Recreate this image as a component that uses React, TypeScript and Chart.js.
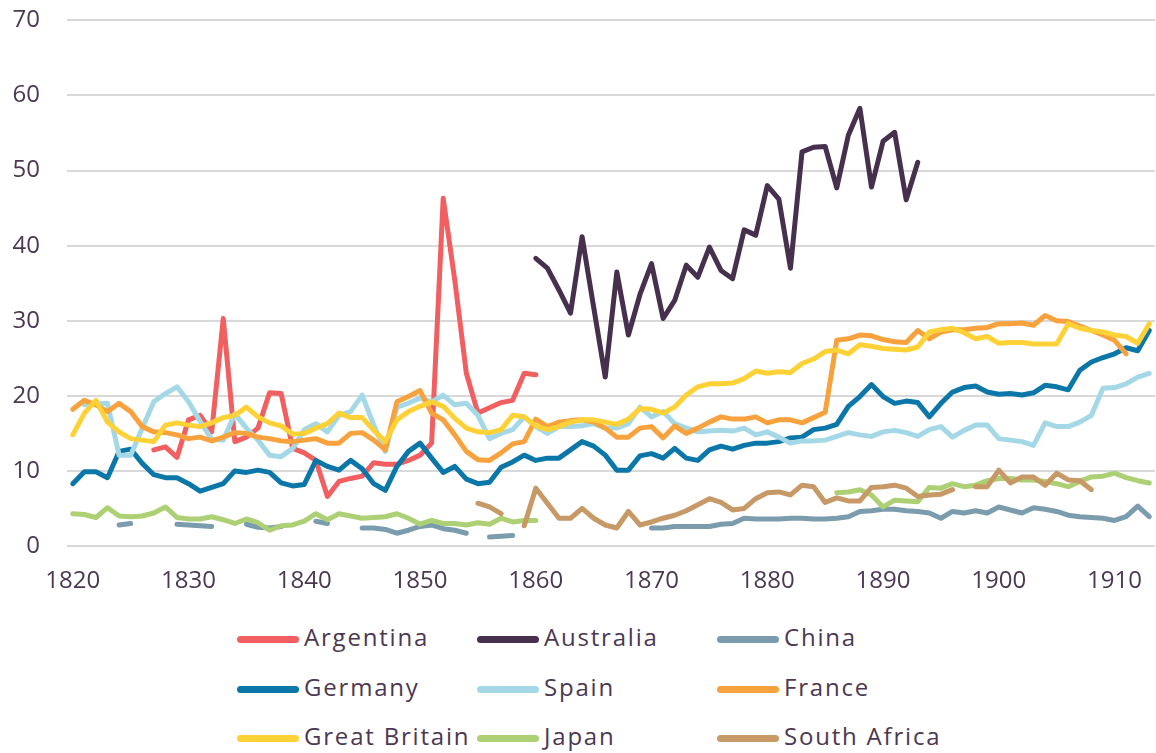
import React, { useEffect, useRef } from 'react';
import { Chart, registerables } from 'chart.js';

Chart.register(...registerables);

const FIRST_YEAR = 1820;
const LAST_YEAR = 1913;
const years: number[] = Array.from({ length: LAST_YEAR - FIRST_YEAR + 1 }, (_, i) => FIRST_YEAR + i);
const xTickYears = [1820, 1830, 1840, 1850, 1860, 1870, 1880, 1890, 1900, 1910];
const yTicks = [0, 10, 20, 30, 40, 50, 60, 70];

const n = null;

// one line per decade, 1820 ... 1913
const argentina = [
  n, n, n, n, n, n, n, 12.8, 13.2, 11.8,
  16.8, 17.4, 15.2, 30.3, 13.9, 14.5, 15.7, 20.4, 20.3, 13.0,
  12.4, 11.4, 6.6, 8.6, 9.0, 9.3, 11.1, 10.9, 10.9, 11.4,
  12.1, 13.7, 46.3, 35.4, 23.0, 17.7, 18.4, 19.1, 19.4, 23.0,
  22.8, n, n, n, n, n, n, n, n, n,
  n, n, n, n, n, n, n, n, n, n,
  n, n, n, n, n, n, n, n, n, n,
  n, n, n, n, n, n, n, n, n, n,
  n, n, n, n, n, n, n, n, n, n,
  n, n, n, n,
];

const australia = [
  n, n, n, n, n, n, n, n, n, n,
  n, n, n, n, n, n, n, n, n, n,
  n, n, n, n, n, n, n, n, n, n,
  n, n, n, n, n, n, n, n, n, n,
  38.3, 37.0, 34.1, 31.0, 41.2, 31.8, 22.5, 36.5, 28.1, 33.5,
  37.6, 30.3, 32.7, 37.4, 35.8, 39.8, 36.7, 35.6, 42.1, 41.4,
  48.0, 46.2, 37.0, 52.5, 53.1, 53.2, 47.7, 54.7, 58.3, 47.8,
  53.9, 55.1, 46.1, 51.1, n, n, n, n, n, n,
  n, n, n, n, n, n, n, n, n, n,
  n, n, n, n,
];

const china = [
  n, n, n, n, 2.8, 3.0, n, n, n, 2.9,
  2.8, 2.7, 2.6, n, n, 2.9, 2.5, 2.4, 2.6, n,
  n, 3.3, 3.0, n, n, 2.4, 2.4, 2.2, 1.7, 2.1,
  2.6, 2.8, 2.3, 2.1, 1.7, n, 1.2, 1.3, 1.4, n,
  n, n, n, n, n, n, n, n, n, n,
  2.4, 2.4, 2.6, 2.6, 2.6, 2.6, 2.9, 3.0, 3.7, 3.6,
  3.6, 3.6, 3.7, 3.7, 3.6, 3.6, 3.7, 3.9, 4.6, 4.7,
  4.9, 4.9, 4.7, 4.6, 4.4, 3.7, 4.6, 4.4, 4.7, 4.4,
  5.2, 4.8, 4.4, 5.1, 4.9, 4.6, 4.1, 3.9, 3.8, 3.7,
  3.4, 3.9, 5.3, 3.9,
];

const germany = [
  8.3, 9.9, 9.9, 9.1, 12.6, 12.9, 11.0, 9.5, 9.1, 9.1,
  8.3, 7.3, 7.8, 8.3, 10.0, 9.8, 10.1, 9.8, 8.4, 8.0,
  8.2, 11.4, 10.6, 10.1, 11.4, 10.3, 8.3, 7.4, 10.6, 12.6,
  13.7, 11.7, 9.8, 10.6, 8.9, 8.3, 8.5, 10.5, 11.2, 12.1,
  11.4, 11.7, 11.7, 12.8, 13.9, 13.3, 12.1, 10.1, 10.1, 12.0,
  12.3, 11.7, 13.0, 11.7, 11.4, 12.8, 13.3, 12.9, 13.4, 13.7,
  13.7, 13.9, 14.4, 14.5, 15.5, 15.7, 16.2, 18.6, 19.9, 21.5,
  19.9, 19.0, 19.3, 19.1, 17.2, 19.0, 20.5, 21.1, 21.3, 20.5,
  20.2, 20.3, 20.1, 20.4, 21.4, 21.2, 20.8, 23.4, 24.5, 25.1,
  25.6, 26.4, 26.0, 28.7,
];

const spain = [
  n, 18.8, 18.9, 19.0, 12.1, 12.1, 15.7, 19.2, 20.3, 21.2,
  19.2, 16.6, 14.2, 14.1, 17.6, 15.7, 14.1, 12.1, 11.9, 13.0,
  15.5, 16.3, 15.2, 17.4, 17.9, 20.1, 16.1, 12.6, 18.5, 19.0,
  19.7, 19.2, 20.1, 18.8, 19.0, 17.4, 14.3, 15.0, 15.5, 17.2,
  15.9, 15.0, 15.9, 15.9, 16.0, 16.3, 15.7, 15.7, 16.3, 18.5,
  17.2, 17.9, 16.3, 15.7, 15.2, 15.3, 15.4, 15.3, 15.7, 14.8,
  15.2, 14.5, 13.7, 14.0, 14.0, 14.1, 14.6, 15.1, 14.8, 14.6,
  15.2, 15.4, 15.1, 14.6, 15.5, 15.9, 14.5, 15.4, 16.1, 16.1,
  14.3, 14.1, 13.9, 13.4, 16.4, 15.9, 15.9, 16.5, 17.4, 21.0,
  21.1, 21.6, 22.5, 23.0,
];

const france = [
  18.2, 19.4, 18.8, 17.9, 19.0, 17.9, 15.9, 15.2, 15.1, 14.8,
  14.3, 14.5, 14.0, 14.5, 15.1, 15.0, 14.5, 14.3, 14.0, 13.9,
  14.1, 14.3, 13.7, 13.7, 15.0, 15.1, 14.1, 12.8, 19.2, 19.9,
  20.7, 17.7, 16.8, 14.8, 12.6, 11.5, 11.4, 12.4, 13.6, 13.9,
  16.9, 15.9, 16.5, 16.7, 16.8, 16.5, 15.7, 14.5, 14.5, 15.7,
  15.9, 14.4, 16.0, 15.0, 15.7, 16.5, 17.2, 16.9, 16.9, 17.2,
  16.4, 16.8, 16.8, 16.4, 17.1, 17.8, 27.4, 27.6, 28.1, 28.0,
  27.5, 27.2, 27.1, 28.7, 27.6, 28.5, 28.8, 28.8, 29.0, 29.1,
  29.6, 29.6, 29.7, 29.4, 30.7, 30.0, 29.9, 29.3, 28.7, 28.1,
  27.4, 25.6, n, n,
];

const greatBritain = [
  14.8, 17.7, 19.4, 16.5, 15.2, 14.3, 14.1, 13.9, 16.1, 16.4,
  16.1, 15.9, 16.4, 17.1, 17.4, 18.5, 17.2, 16.4, 16.0, 14.9,
  15.0, 15.7, 16.3, 17.7, 17.1, 17.1, 15.4, 13.9, 16.8, 17.9,
  18.6, 19.2, 18.6, 17.0, 15.7, 15.2, 15.1, 15.5, 17.4, 17.2,
  16.0, 15.5, 15.9, 16.5, 16.8, 16.8, 16.5, 16.2, 16.9, 18.3,
  18.2, 17.7, 18.5, 20.1, 21.2, 21.6, 21.6, 21.7, 22.3, 23.3,
  23.0, 23.2, 23.1, 24.3, 24.9, 25.9, 26.1, 25.6, 26.8, 26.6,
  26.3, 26.2, 26.1, 26.5, 28.5, 28.8, 29.0, 28.4, 27.6, 27.9,
  27.0, 27.1, 27.1, 26.9, 26.9, 26.9, 29.6, 29.0, 28.7, 28.5,
  28.1, 27.9, 27.0, 29.6,
];

const japan = [
  4.3, 4.2, 3.8, 5.1, 4.0, 3.9, 4.0, 4.4, 5.2, 3.8,
  3.6, 3.6, 3.9, 3.5, 3.0, 3.6, 3.1, 2.1, 2.7, 2.8,
  3.3, 4.3, 3.5, 4.3, 4.0, 3.7, 3.8, 3.9, 4.3, 3.7,
  2.9, 3.4, 3.0, 3.0, 2.8, 3.1, 2.9, 3.7, 3.2, 3.4,
  3.4, n, n, n, n, n, n, n, n, n,
  n, n, n, n, n, n, n, n, n, n,
  n, n, n, n, n, n, 7.1, 7.2, 7.5, 6.8,
  5.2, 6.1, 6.0, 5.9, 7.8, 7.7, 8.3, 7.9, 8.1, 8.7,
  9.0, 9.0, 8.8, 8.8, 8.6, 8.3, 7.9, 8.6, 9.2, 9.3,
  9.7, 9.1, 8.7, 8.4,
];

const southAfrica = [
  n, n, n, n, n, n, n, n, n, n,
  n, n, n, n, n, n, n, n, n, n,
  n, n, n, n, n, n, n, n, n, n,
  n, n, n, n, n, 5.7, 5.2, 4.3, n, 2.7,
  7.7, 5.7, 3.7, 3.7, 5.0, 3.7, 2.8, 2.4, 4.6, 2.8,
  3.2, 3.7, 4.1, 4.7, 5.5, 6.3, 5.8, 4.8, 5.0, 6.3,
  7.1, 7.2, 6.8, 8.1, 7.9, 5.8, 6.4, 6.0, 6.0, 7.8,
  7.9, 8.1, 7.7, 6.6, 6.8, 6.9, 7.5, n, 7.9, 7.9,
  10.1, 8.4, 9.2, 9.2, 8.1, 9.7, 8.8, 8.7, 7.5, n,
  n, n, n, n,
];

const seriesNames = [
  'Argentina', 'Australia', 'China',
  'Germany', 'Spain', 'France',
  'Great Britain', 'Japan', 'South Africa',
];
const seriesValues = [argentina, australia, china, germany, spain, france, greatBritain, japan, southAfrica];
const seriesColors = [
  '#f15f61', '#47304d', '#7a9cad',
  '#0a77a8', '#a4d8e6', '#f8a23e',
  '#fed236', '#acd073', '#c69966',
];

const FONT = '"Open Sans", "DejaVu Sans", sans-serif';
const TEXT = '#4b3852';

export default function App() {
  const ref = useRef<HTMLCanvasElement | null>(null);

  useEffect(() => {
    let chart: Chart | null = null;
    let cancelled = false;
    const make = () => {
      if (cancelled || !ref.current) return;
      chart = new Chart(ref.current, {
        type: 'line',
        data: {
          labels: years.map(String),
          datasets: seriesNames.map((name, i) => ({
            label: name,
            data: seriesValues[i],
            borderColor: seriesColors[i],
            backgroundColor: seriesColors[i],
            borderWidth: 5,
            pointRadius: 0,
            pointHoverRadius: 0,
            tension: 0,
            spanGaps: false,
            fill: false,
            borderCapStyle: 'round',
            borderJoinStyle: 'round',
            order: seriesNames.length - i,
          })),
        },
        options: {
          responsive: false,
          animation: false,
          events: [],
          layout: { autoPadding: false, padding: { top: 0, right: 0, bottom: 0, left: 0 } },
          plugins: { legend: { display: false }, title: { display: false }, tooltip: { enabled: false } },
          scales: {
            x: {
              type: 'category',
              offset: true,
              grid: { display: false, drawTicks: false },
              border: { display: false },
              ticks: {
                autoSkip: false,
                maxRotation: 0,
                minRotation: 0,
                padding: 21,
                color: TEXT,
                font: { family: FONT, size: 24 },
                callback: (_v: any, i: number) =>
                  xTickYears.includes(years[i]) ? String(years[i]) : null,
              },
              afterFit: (s: any) => { s.height = 54; },
            },
            y: {
              min: yTicks[0],
              max: yTicks[yTicks.length - 1],
              ticks: {
                stepSize: 10,
                padding: 27,
                color: TEXT,
                font: { family: FONT, size: 24 },
              },
              grid: { color: '#d9d9d9', lineWidth: 2, drawTicks: false },
              border: { display: false },
              afterFit: (s: any) => { s.width = 67; },
            },
          },
        },
      } as any);
    };
    const fonts: any = (document as any).fonts;
    if (fonts && fonts.load) {
      fonts.load('24px "Open Sans"').then(make, make);
    } else {
      make();
    }
    return () => {
      cancelled = true;
      if (chart) chart.destroy();
    };
  }, []);

  const cols = [237, 477, 717];
  const rows = [639, 689, 738];

  return (
    <div style={{ position: 'fixed', left: 0, top: 0, width: 1156, height: 753, background: '#fff', overflow: 'hidden' }}>
      <canvas ref={ref} width={1163} height={621} style={{ position: 'absolute', left: 0, top: -21, width: 1163, height: 621 }} />
      {seriesNames.map((name, i) => {
        const cx = cols[i % 3];
        const cy = rows[Math.floor(i / 3)];
        return (
          <div key={name}>
            <div style={{ position: 'absolute', left: cx, top: cy - 3.5, width: 62, height: 7, borderRadius: 3.5, background: seriesColors[i] }} />
            <div style={{ position: 'absolute', left: cx + 67, top: cy - 17, height: 30, lineHeight: '30px', fontFamily: FONT, fontSize: 24, letterSpacing: '1.8px', color: TEXT, whiteSpace: 'nowrap' }}>{name}</div>
          </div>
        );
      })}
    </div>
  );
}
